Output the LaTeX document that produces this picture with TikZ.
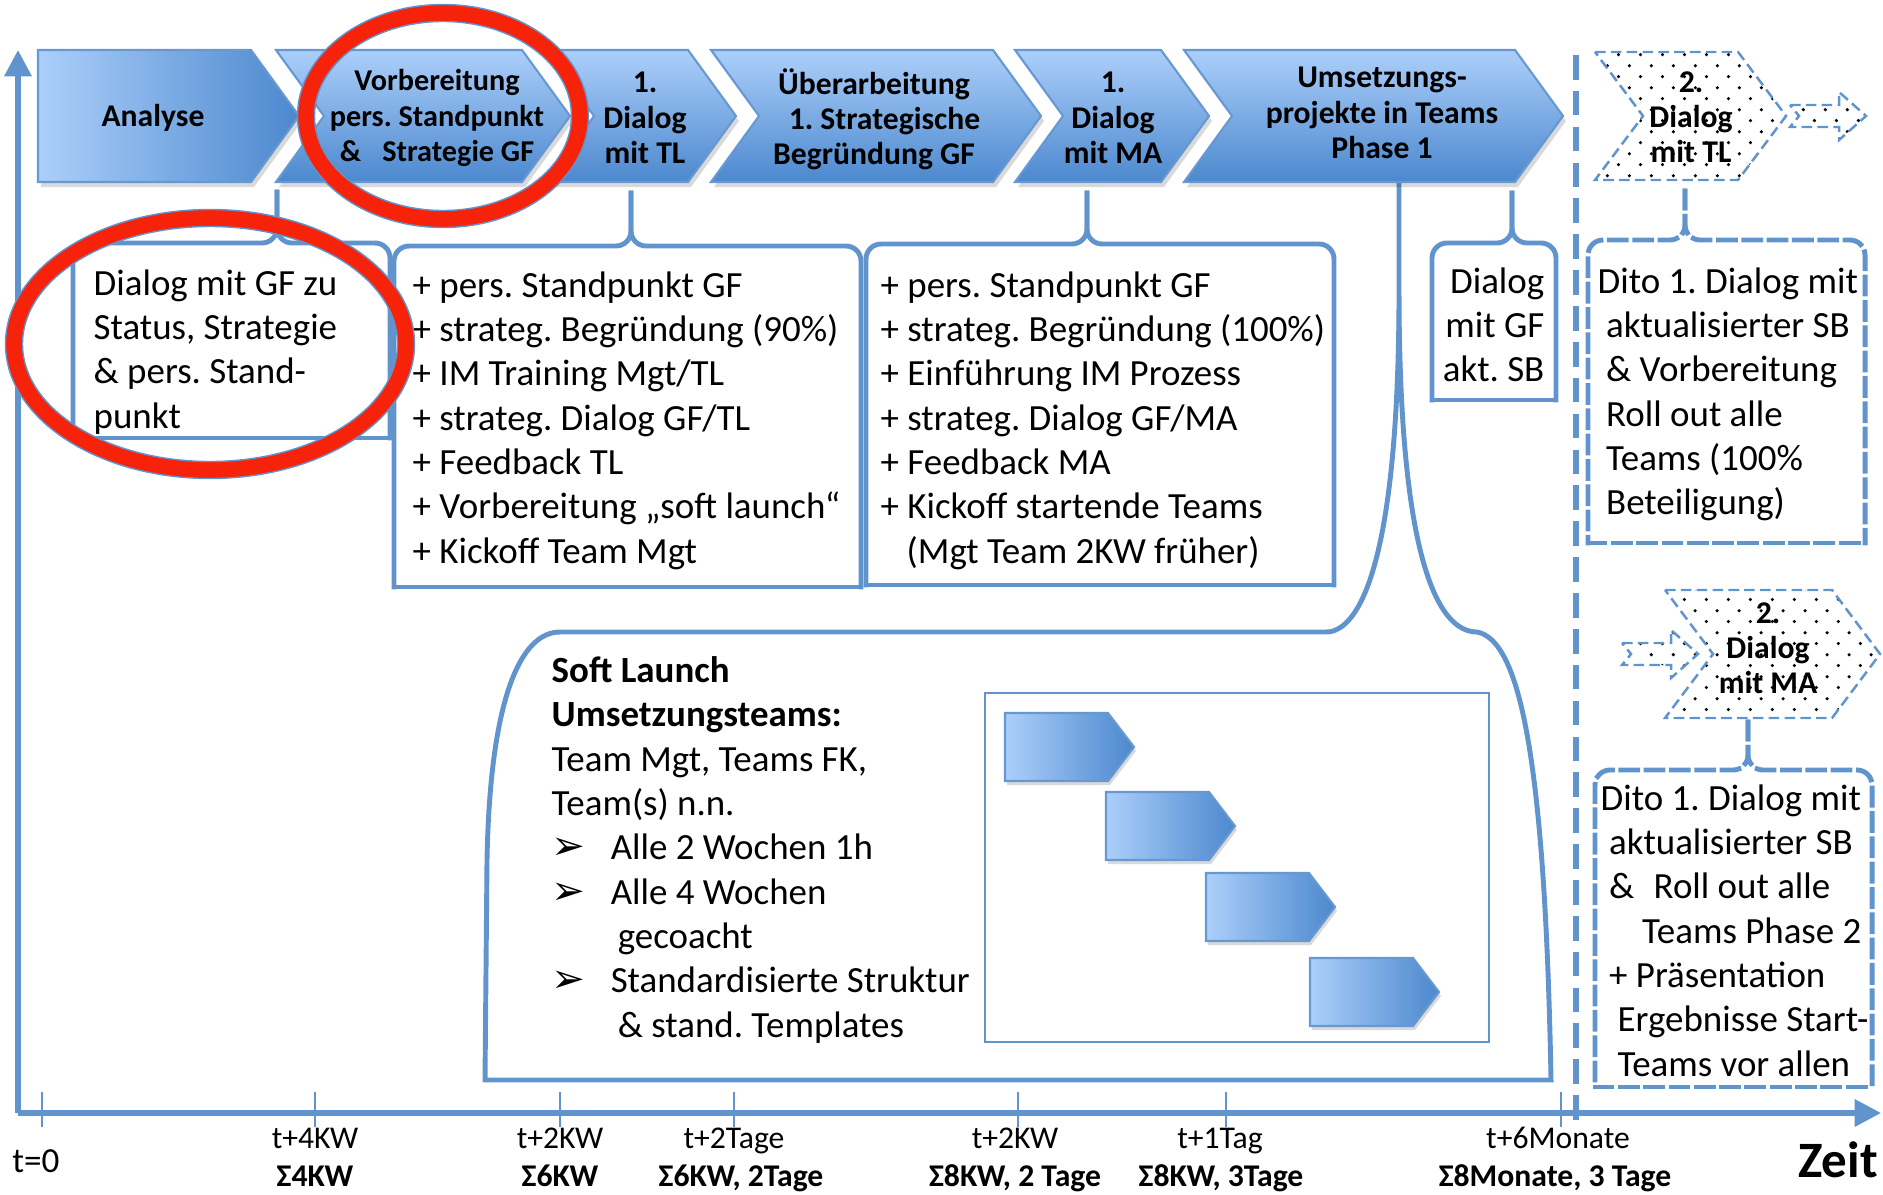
\documentclass[tikz,border=0pt]{standalone}
\usepackage{fontspec}
\setmainfont{Carlito}
\newfontfamily\dingfont{DejaVu Sans}
\usetikzlibrary{arrows.meta,patterns.meta}
\frenchspacing
\definecolor{lineblue}{RGB}{97,148,204}
\definecolor{chevlight}{RGB}{172,207,250}
\definecolor{chevdark}{RGB}{76,136,206}
\definecolor{chevedge}{RGB}{104,152,210}
\definecolor{ringred}{RGB}{246,34,10}
\tikzdeclarepattern{
  name=sparsedots,
  type=uncolored,
  bounding box={(0pt,0pt) and (6.2pt,6.2pt)},
  tile size={(6.2pt,6.2pt)},
  code={
    \pgfpathcircle{\pgfqpoint{1.55pt}{1.55pt}}{0.5pt}
    \pgfpathcircle{\pgfqpoint{4.65pt}{4.65pt}}{0.5pt}
    \pgfusepath{fill}
  }
}
\tikzset{
  chev/.style={top color=chevlight,bottom color=chevdark,draw=chevedge,line width=0.6pt},
  chevh/.style={left color=chevlight,right color=chevdark,draw=chevedge,line width=0.6pt},
  chevshadow/.style={fill=black,opacity=0.15},
  chevtxt/.style={font=\bfseries\fontsize{9}{10}\selectfont,align=center,inner sep=0pt},
  bodytxt/.style={font=\fontsize{10.5}{12.6}\selectfont,align=left,inner sep=0pt,anchor=north west},
  bbox/.style={draw=lineblue,line width=1.4pt,rounded corners=0.15cm,line cap=rect},
  dbox/.style={bbox,dash pattern=on 4.8pt off 2.4pt},
  dotchev/.style={pattern=sparsedots,pattern color=black,draw=lineblue,line width=0.7pt,
                  dash pattern=on 3pt off 1.5pt},
  timeaxis/.style={draw=lineblue,line width=1.6pt,-{Triangle[length=7.5pt,width=7.5pt]}},
  axtick/.style={draw=lineblue,line width=0.6pt},
  sepline/.style={draw=lineblue,line width=1.7pt,dash pattern=on 7pt off 3.2pt},
  axtxt/.style={font=\fontsize{9}{10}\selectfont,inner sep=0pt,anchor=base},
  axbold/.style={font=\bfseries\fontsize{9}{10}\selectfont,inner sep=0pt,anchor=base},
  ring/.style={draw=ringred,line width=4.8pt},
  ringedge/.style={draw=lineblue,line width=0.4pt},
}
\newcommand{\chevbox}[3][chev]{%
  \fill[chevshadow,xshift=0.03cm,yshift=-0.05cm] (#2,50) -- (#3,50) -- ++(48,66) -- ++(-48,66) -- (#2,182) -- ++(48,-66) -- cycle;
  \path[#1] (#2,50) -- (#3,50) -- ++(48,66) -- ++(-48,66) -- (#2,182) -- ++(48,-66) -- cycle;}
\newcommand{\ganttbar}[2]{%
  \fill[chevshadow,xshift=0.02cm,yshift=-0.04cm] (#1,#2) -- ++(103,0) -- ++(26,34) -- ++(-26,34) -- ++(-103,0) -- cycle;
  \path[chevh] (#1,#2) -- ++(103,0) -- ++(26,34) -- ++(-26,34) -- ++(-103,0) -- cycle;}
\newcommand{\dotchevbox}[3]{%
  \path[dotchev] (#1,#3) -- (#2,#3) -- ++(48,64) -- ++(-48,64) -- ++({#1-#2},0) -- ++(48,-64) -- cycle;}
\newcommand{\notcharrow}[2]{%
  \path[dotchev] (#1,{#2-11}) -- ++(49,0) -- ++(0,-13) -- ++(27,24) -- ++(-27,24) -- ++(0,-13) -- ++(-49,0) -- ++(9,-11) -- cycle;}
\newcommand{\bracebox}[7][bbox]{%
  \draw[#1] (#6,#7) -- (#6,#4) -| (#2,#5);
  \draw[#1] (#6,#7) -- (#6,#4) -| (#3,#5);
  \draw[#1] (#2,#5) -- (#3,#5);}
\newcommand{\bul}{\makebox[16.8pt][l]{\dingfont\fontsize{11.5}{12}\selectfont ➢}}

\begin{document}
\begin{tikzpicture}[x=0.01cm,y=-0.01cm]
  \useasboundingbox (0,0) rectangle (1883,1194);

  % Zeitachse
  \coordinate (orig) at (18,1113);
  \coordinate (ytop) at (18,50);
  \coordinate (xend) at (1881,1113);
  \draw[timeaxis] (orig) -- (ytop);
  \draw[timeaxis] (orig) -- (xend);
  \draw[axtick] (42,1092) -- (42,1127) (315,1092) -- (315,1127) (560,1092) -- (560,1127)
    (734,1092) -- (734,1127) (1018,1092) -- (1018,1127) (1226,1092) -- (1226,1127)
    (1561,1092) -- (1561,1127);
  \node[axtxt,font=\fontsize{10}{11}\selectfont] (t0) at (36,1172) {t=0};
  \node[axtxt] (ta) at (315,1148) {t+4KW};
  \node[axbold] (sa) at (315,1186) {Σ4KW};
  \node[axtxt] (tb) at (560,1148) {t+2KW};
  \node[axbold] (sb) at (560,1186) {Σ6KW};
  \node[axtxt] (tc) at (734,1148) {t+2Tage};
  \node[axbold] (sc) at (741,1186) {Σ6KW, 2Tage};
  \node[axtxt] (td) at (1015,1148) {t+2KW};
  \node[axbold] (sd) at (1015,1186) {Σ8KW, 2 Tage};
  \node[axtxt] (te) at (1220,1148) {t+1Tag};
  \node[axbold] (se) at (1221,1186) {Σ8KW, 3Tage};
  \node[axtxt] (tf) at (1558,1148) {t+6Monate};
  \node[axbold] (sf) at (1555,1186) {Σ8Monate, 3 Tage};
  \node[font=\bfseries\fontsize{14.5}{16}\selectfont,inner sep=0pt] (zeit) at (1838,1160) {Zeit};

  % Trennlinie Phase 2
  \draw[sepline] (1576,55) -- (1576,1120);

  % Soft Launch
  \draw[bbox,rounded corners=0pt] (1399,183) -- (1399,290) .. controls (1399,560) and (1360,632) .. (1326,632)
    -- (560,632) .. controls (520,632) and (490,700) .. (487,860) -- (485,1080) -- (1551,1080)
    .. controls (1545,760) and (1520,640) .. (1477,632) .. controls (1438,632) and (1399,560) .. (1399,290);
  \draw[draw=lineblue,line width=0.8pt] (985,693) rectangle (1489,1042);
  \ganttbar{1005}{713}
  \ganttbar{1106}{792}
  \ganttbar{1206}{873}
  \ganttbar{1310}{958}
  \node[bodytxt] (soft) at (551,656) {\textbf{Soft Launch}\\\textbf{Umsetzungsteams:}\\Team Mgt, Teams FK,\\Team(s) n.n.\\
    \bul Alle 2 Wochen 1h\\\bul Alle 4 Wochen\\\hspace*{18.8pt}gecoacht\\\bul Standardisierte Struktur\\
    \hspace*{18.8pt}\& stand. Templates};

  % Klammer-Boxen
  \bracebox{73}{390}{243}{438}{277}{192}
  \node[bodytxt] (analyse txt) at (93,269) {Dialog mit GF zu\\Status, Strategie\\\& pers. Stand-\\punkt};
  \bracebox{394}{861}{246}{587}{631}{193}
  \node[bodytxt] (tl txt) at (412,271) {+ pers. Standpunkt GF\\+ strateg. Begründung (90\%)\\+ IM Training Mgt/TL\\
    + strateg. Dialog GF/TL\\+ Feedback TL\\+ Vorbereitung „soft launch“\\+ Kickoff Team Mgt};
  \bracebox{866}{1334}{244}{585}{1087}{193}
  \node[bodytxt] (ma txt) at (880,271) {+ pers. Standpunkt GF\\+ strateg. Begründung (100\%)\\+ Einführung IM Prozess\\
    + strateg. Dialog GF/MA\\+ Feedback MA\\+ Kickoff startende Teams\\\hspace*{7.4pt}(Mgt Team 2KW früher)};
  \bracebox{1432}{1556}{243}{400}{1512}{193}
  \node[bodytxt,align=right,anchor=north east] (gf txt) at (1545,267) {Dialog\\mit GF\\akt. SB};
  \bracebox[dbox]{1588}{1865}{240}{543}{1685}{191}
  \node[bodytxt] (tl2 txt) at (1597,267) {Dito 1. Dialog mit\\\hspace*{2.4pt}aktualisierter SB\\\hspace*{2.4pt}\& Vorbereitung\\
    \hspace*{2.4pt}Roll out alle\\\hspace*{2.4pt}Teams (100\%\\\hspace*{2.4pt}Beteiligung)};
  \bracebox[dbox]{1595}{1872}{770}{1087}{1748}{722}
  \node[bodytxt] (ma2 txt) at (1600,784) {Dito 1. Dialog mit\\\hspace*{2.4pt}aktualisierter SB\\\hspace*{2.4pt}\&\hspace{5.5pt}Roll out alle\\
    \hspace*{11.8pt}Teams Phase 2\\\hspace*{2.4pt}+ Präsentation\\\hspace*{4.8pt}Ergebnisse Start-\\\hspace*{4.8pt}Teams vor allen};

  % Phasen-Pfeile
  \fill[chevshadow,xshift=0.03cm,yshift=-0.05cm] (38,50) -- (251,50) -- (299,116) -- (251,182) -- (38,182) -- cycle;
  \path[chevh] (38,50) -- (251,50) -- (299,116) -- (251,182) -- (38,182) -- cycle;
  \chevbox{276}{522}
  \chevbox{546}{688}
  \chevbox{711}{993}
  \chevbox{1015}{1161}
  \chevbox{1184}{1515}
  \node[chevtxt] (analyse) at (153,118) {Analyse};
  \node[chevtxt,font=\bfseries\fontsize{8.6}{10}\selectfont] (vorb) at (437,118) {Vorbereitung\\pers. Standpunkt\\\&\hspace{6pt}Strategie GF};
  \node[chevtxt] (dialog tl) at (645,118) {1.\\Dialog\\mit TL};
  \node[chevtxt] (ueber) at (874,119) {Überarbeitung\\\hspace*{6pt}1. Strategische\\Begründung GF};
  \node[chevtxt] (dialog ma) at (1113,118) {1.\\Dialog\\mit MA};
  \node[chevtxt] (umsetz) at (1382,113) {Umsetzungs-\\projekte in Teams\\Phase 1};

  % Phase 2 (gepunktet)
  \dotchevbox{1595}{1738}{52}
  \notcharrow{1790}{116}
  \node[chevtxt] (dialog tl2) at (1691,117) {2.\\Dialog\\mit TL};
  \dotchevbox{1665}{1832}{590}
  \notcharrow{1622}{654}
  \node[chevtxt] (dialog ma2) at (1768,648) {2.\\Dialog\\mit MA};

  % Markierungen
  \draw[ring] (443,116) ellipse [x radius=137, y radius=103];
  \draw[ringedge] (443,116) ellipse [x radius=145.5, y radius=111.5] (443,116) ellipse [x radius=128.5, y radius=94.5];
  \draw[ring] (210,344) ellipse [x radius=196, y radius=126];
  \draw[ringedge] (210,344) ellipse [x radius=204.5, y radius=134.5] (210,344) ellipse [x radius=187.5, y radius=117.5];
\end{tikzpicture}
\end{document}
